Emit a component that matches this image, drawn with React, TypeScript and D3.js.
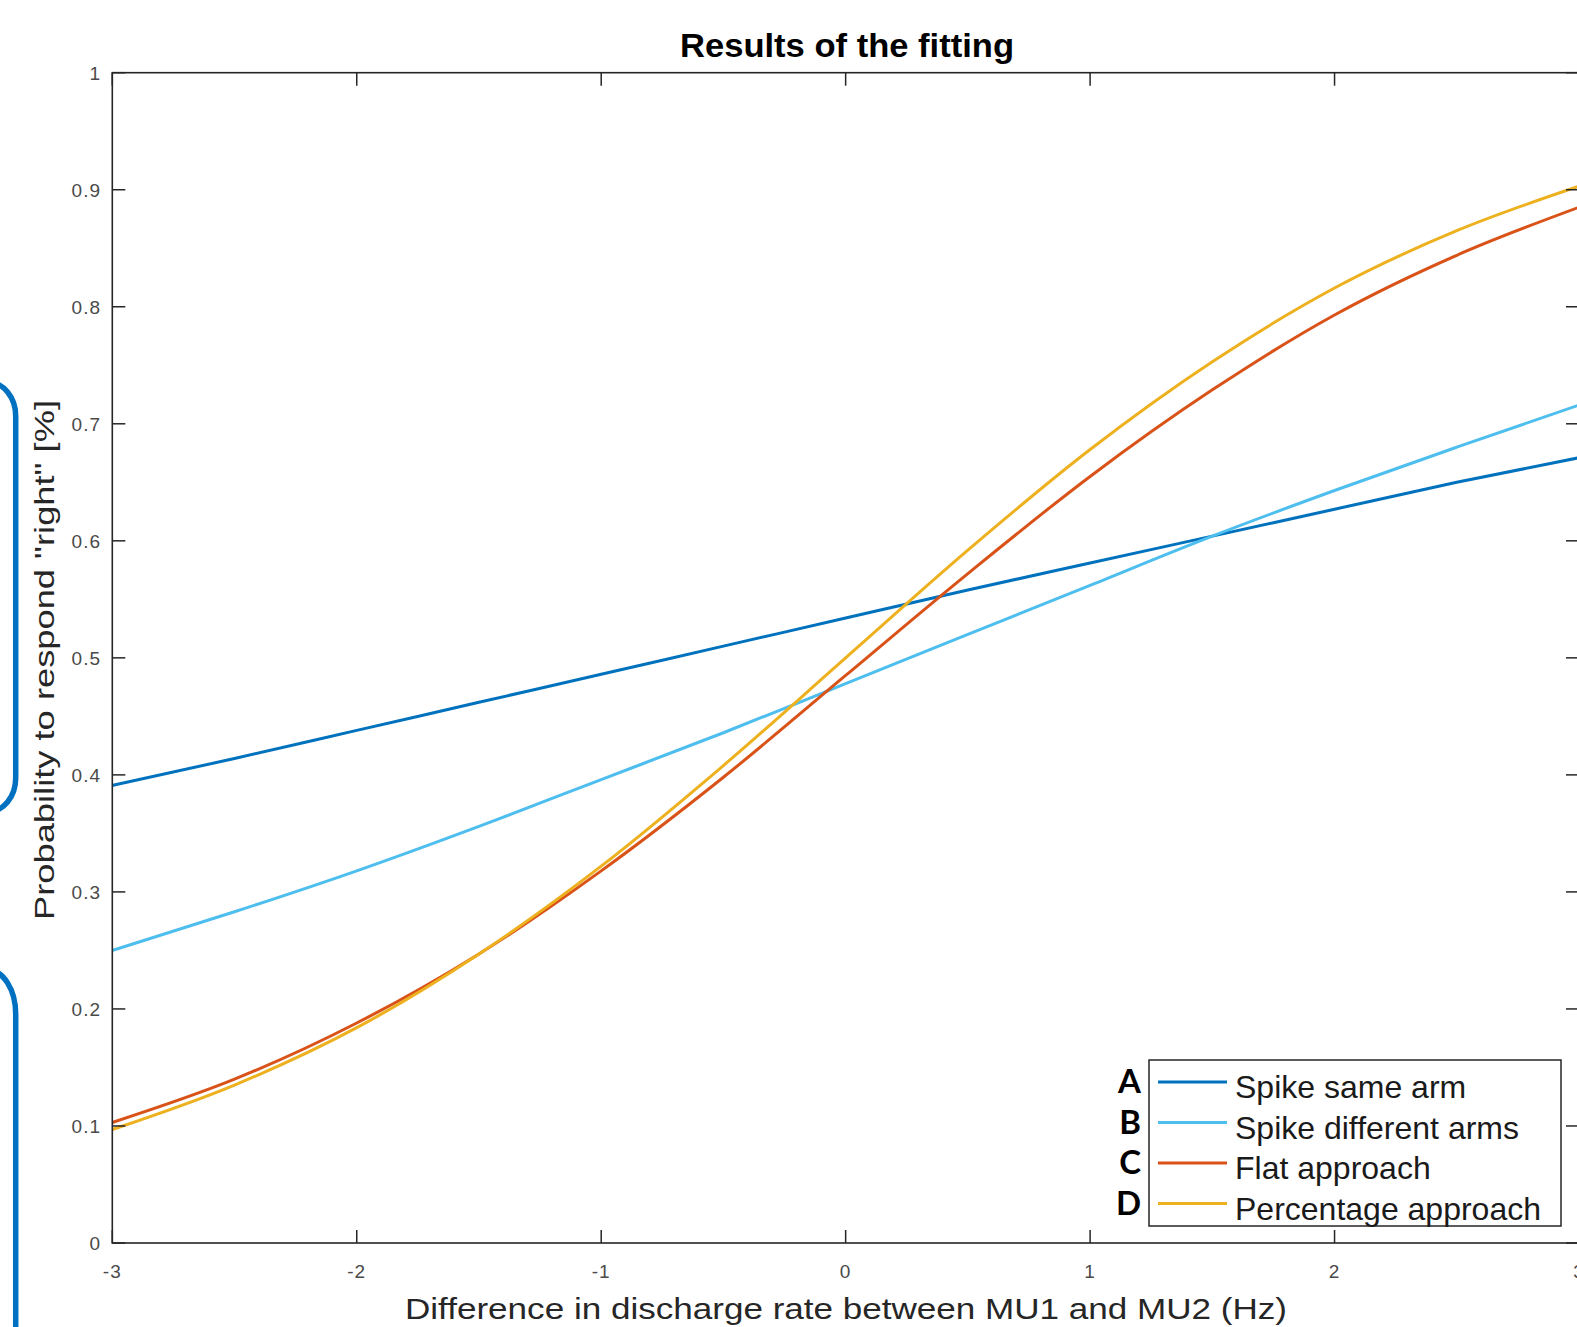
import React, { useEffect } from 'react';
import * as d3 from 'd3';

const xValues = [-3, -2.5, -2, -1.5, -1, -0.5, 0, 0.5, 1, 1.5, 2, 2.5, 3];
const spikeSameArm = [0.391, 0.414, 0.438, 0.462, 0.486, 0.510, 0.534, 0.558, 0.581, 0.604, 0.627, 0.650, 0.671];
const spikeDifferentArms = [0.250, 0.283, 0.318, 0.356, 0.396, 0.436, 0.478, 0.520, 0.562, 0.604, 0.643, 0.680, 0.716];
const flatApproach = [0.103, 0.140, 0.188, 0.247, 0.318, 0.398, 0.485, 0.572, 0.655, 0.729, 0.793, 0.844, 0.885];
const percentageApproach = [0.097, 0.135, 0.184, 0.247, 0.322, 0.408, 0.500, 0.592, 0.678, 0.753, 0.816, 0.865, 0.903];

const seriesNames = ['Spike same arm', 'Spike different arms', 'Flat approach', 'Percentage approach'];
const seriesLetters = ['A', 'B', 'C', 'D'];
const seriesColors = ['#0072BD', '#4DBEEE', '#D95319', '#EDB120'];
const seriesValues = [spikeSameArm, spikeDifferentArms, flatApproach, percentageApproach];

const xTicks = [-3, -2, -1, 0, 1, 2, 3];
const xTickLabels = ['-3', '-2', '-1', '0', '1', '2', '3'];
const yTicks = [0, 0.1, 0.2, 0.3, 0.4, 0.5, 0.6, 0.7, 0.8, 0.9, 1];
const yTickLabels = ['0', '0.1', '0.2', '0.3', '0.4', '0.5', '0.6', '0.7', '0.8', '0.9', '1'];

const titleText = 'Results of the fitting';
const xLabelText = 'Difference in discharge rate between MU1 and MU2 (Hz)';
const yLabelText = 'Probability to respond "right" [%]';

const W = 1577;
const H = 1327;
const LEFT = 112.3;
const RIGHT = 1579;
const TOP = 72.7;
const BOTTOM = 1243;

export default function App() {
  useEffect(() => {
    document.body.style.margin = '0';
  }, []);

  const x = d3.scaleLinear().domain([-3, 3]).range([LEFT, RIGHT]);
  const y = d3.scaleLinear().domain([0, 1]).range([BOTTOM, TOP]);

  const line = d3
    .line<[number, number]>()
    .x((d) => x(d[0]))
    .y((d) => y(d[1]))
    .curve(d3.curveMonotoneX);

  const axisColor = '#262626';
  const tickLen = 13;
  const font = '"Liberation Sans", Arial, Helvetica, sans-serif';

  const legendX0 = 1149;
  const legendY0 = 1060;
  const legendW = 412;
  const legendH = 166;
  const rowGap = 40.5;
  const firstRowCenter = 1082;

  return (
    <svg
      width={W}
      height={H}
      style={{ position: 'absolute', left: 0, top: 0, display: 'block', background: '#fff' }}
      fontFamily={font}
    >
      <rect x={0} y={0} width={W} height={H} fill="#fff" />

      {/* blue brackets */}
      <rect x={-40} y={382} width={55.7} height={430} rx={34} ry={34} fill="none" stroke="#0070C0" strokeWidth={5.5} />
      <rect x={-40} y={970} width={55.7} height={520} rx={44} ry={44} fill="none" stroke="#0070C0" strokeWidth={5.5} />

      {/* series */}
      {seriesValues.map((vals, i) => (
        <path
          key={seriesNames[i]}
          d={line(xValues.map((xv, j) => [xv, vals[j]] as [number, number])) || ''}
          fill="none"
          stroke={seriesColors[i]}
          strokeWidth={3}
          strokeLinejoin="round"
        />
      ))}

      {/* axes box */}
      <rect x={LEFT} y={TOP} width={RIGHT - LEFT} height={BOTTOM - TOP} fill="none" stroke={axisColor} strokeWidth={1.6} />

      {/* x ticks */}
      {xTicks.map((t, i) => (
        <g key={'xt' + t}>
          <line x1={x(t)} x2={x(t)} y1={BOTTOM} y2={BOTTOM - tickLen} stroke={axisColor} strokeWidth={1.5} />
          <line x1={x(t)} x2={x(t)} y1={TOP} y2={TOP + tickLen} stroke={axisColor} strokeWidth={1.5} />
          <text x={x(t)} y={1278} textAnchor="middle" fontSize={19} letterSpacing={1} fill="#4a4a4a">
            {xTickLabels[i]}
          </text>
        </g>
      ))}

      {/* y ticks */}
      {yTicks.map((t, i) => (
        <g key={'yt' + t}>
          <line x1={LEFT} x2={LEFT + tickLen} y1={y(t)} y2={y(t)} stroke={axisColor} strokeWidth={1.5} />
          <line x1={RIGHT} x2={RIGHT - tickLen} y1={y(t)} y2={y(t)} stroke={axisColor} strokeWidth={1.5} />
          <text x={101} y={y(t) + 7} textAnchor="end" fontSize={19} letterSpacing={1} fill="#4a4a4a">
            {yTickLabels[i]}
          </text>
        </g>
      ))}

      {/* title */}
      <text x={847} y={57} textAnchor="middle" fontSize={33} fontWeight="bold" fill="#000" textLength={334} lengthAdjust="spacingAndGlyphs">
        {titleText}
      </text>

      {/* x label */}
      <text x={846} y={1319} textAnchor="middle" fontSize={29} fill="#262626" textLength={882} lengthAdjust="spacingAndGlyphs">
        {xLabelText}
      </text>

      {/* y label */}
      <text
        transform={`translate(54,660) rotate(-90)`}
        textAnchor="middle"
        fontSize={28}
        fill="#262626"
        textLength={520}
        lengthAdjust="spacingAndGlyphs"
      >
        {yLabelText}
      </text>

      {/* legend */}
      <rect x={legendX0} y={legendY0} width={legendW} height={legendH} fill="#fff" stroke={axisColor} strokeWidth={1.5} />
      {seriesNames.map((name, i) => {
        const cy = firstRowCenter + i * rowGap;
        return (
          <g key={'lg' + name}>
            <line x1={1158} x2={1227} y1={cy} y2={cy} stroke={seriesColors[i]} strokeWidth={3} />
            <text x={1235} y={cy + 16} fontSize={32} fill="#1a1a1a">
              {name}
            </text>
            <text
              x={1141}
              y={cy + 11}
              textAnchor="end"
              fontSize={33}
              fontWeight="bold"
              fill="#000"
              fontFamily='Lato, "Open Sans", sans-serif'
            >
              {seriesLetters[i]}
            </text>
          </g>
        );
      })}
    </svg>
  );
}
